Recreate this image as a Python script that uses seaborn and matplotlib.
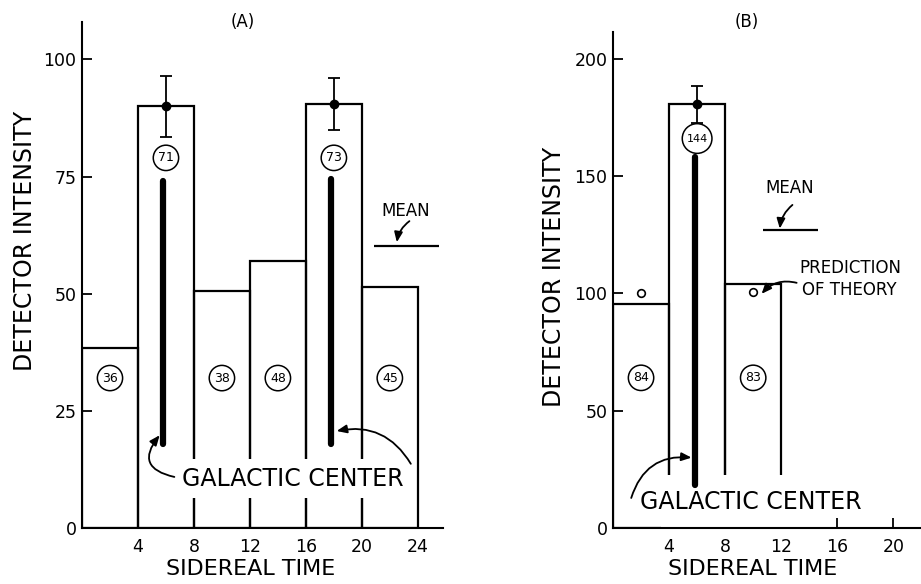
import matplotlib
matplotlib.use("Agg")
import matplotlib.pyplot as plt
from matplotlib.patches import Rectangle
import seaborn as sns

sns.set_style("ticks")
plt.rcParams['font.family'] = ['DejaVu Sans']
plt.rcParams['text.color'] = 'black'
plt.rcParams['axes.labelcolor'] = 'black'
plt.rcParams['xtick.color'] = 'black'
plt.rcParams['ytick.color'] = 'black'

# ---------------- DATOS (A) ----------------
tiempo_A = [2, 6, 10, 14, 18, 22]
intensidad_A = [38.5, 90, 50.5, 57, 90.5, 51.5]
cuentas_A = [36, 71, 38, 48, 73, 45]
cuentas_y_A = [32, 79, 32, 32, 79, 32]
err_x_A = [6, 18]
err_y_A = [90, 90.5]
err_A = [6.5, 5.5]
media_A = 60.2
centro_x_A = [5.8, 17.8]
centro_ini_A = [18, 18]
centro_fin_A = [74, 74.5]
bordes_A = [0, 4, 8, 12, 16, 20, 24]

# ---------------- DATOS (B) ----------------
tiempo_B = [2, 6, 10]
intensidad_B = [95.5, 180.5, 104]
cuentas_B = [84, 144, 83]
cuentas_y_B = [64, 166, 64]
err_x_B = [6]
err_y_B = [180.5]
err_B = [8]
teoria_x_B = [2, 10]
teoria_y_B = [100, 100.5]
media_B = 127
centro_x_B = [5.85]
centro_ini_B = [18.5]
centro_fin_B = [158]
bordes_B = [0, 4, 8, 12]

fig = plt.figure(figsize=(9.21, 5.84), dpi=100)
axA = fig.add_axes([82/921, 56/584, 361/921, 506/584])
axB = fig.add_axes([613/921, 56/584, 307/921, 496/584])

def histograma(ax, t, v, bordes):
    sns.histplot(x=t, weights=v, bins=bordes, fill=False, element='bars',
                 color='black', linewidth=1.6, ax=ax)

def circulos(ax, xs, ys, cs):
    for x, y, c in zip(xs, ys, cs):
        tam = 8 if len(str(c)) > 2 else 9
        ax.text(x, y, str(c), fontsize=tam, ha='center', va='center', zorder=5,
                bbox=dict(boxstyle='circle,pad=0.38', fc='white', ec='black', lw=1.1))

flecha = dict(arrowstyle='-|>,head_length=0.6,head_width=0.25', color='black', lw=1.3,
              shrinkA=0, shrinkB=0)

#################### PANEL (A) ####################
histograma(axA, tiempo_A, intensidad_A, bordes_A)
# se tapa el borde de las barras detras del texto
axA.add_patch(Rectangle((6.7, 6.4), 16.9, 8.4, fc='white', ec='none', zorder=1.5))
axA.errorbar(err_x_A, err_y_A, yerr=err_A, fmt='o', color='black', ms=6,
             capsize=4, elinewidth=1.3, capthick=1.3, zorder=4)
axA.vlines(centro_x_A, centro_ini_A, centro_fin_A, color='black', lw=4.5,
           capstyle='round', zorder=3)
circulos(axA, tiempo_A, cuentas_y_A, cuentas_A)
axA.hlines(media_A, 20.9, 25.5, color='black', lw=1.6)
axA.text(23.1, 67.6, 'MEAN', fontsize=12, ha='center', va='center')
axA.annotate('', xy=(22.5, 61), xytext=(23.4, 65.5),
             arrowprops=dict(flecha, connectionstyle='arc3,rad=0.2'))
axA.text(15.1, 10.4, 'GALACTIC CENTER', fontsize=17, ha='center', va='center', zorder=4)
axA.annotate('', xy=(5.55, 19.8), xytext=(6.6, 10.9),
             arrowprops=dict(flecha, connectionstyle='arc3,rad=-0.8'), zorder=5)
axA.annotate('', xy=(18.2, 20.7), xytext=(23.5, 13.7),
             arrowprops=dict(flecha, connectionstyle='arc3,rad=0.35'), zorder=5)
axA.set_xlim(0, 25.8)
axA.set_ylim(0, 108)
axA.set_xticks([4, 8, 12, 16, 20, 24])
axA.set_yticks([0, 25, 50, 75, 100])
axA.text(0.446, 1.0, '(A)', transform=axA.transAxes, ha='center', va='center', fontsize=12)

#################### PANEL (B) ####################
histograma(axB, tiempo_B, intensidad_B, bordes_B)
axB.add_patch(Rectangle((3.4, 0.3), 9.2, 22.3, fc='white', ec='none', zorder=1.5))
axB.errorbar(err_x_B, err_y_B, yerr=err_B, fmt='o', color='black', ms=6,
             capsize=4, elinewidth=1.3, capthick=1.3, zorder=4)
axB.plot(teoria_x_B, teoria_y_B, 'o', mfc='white', mec='black', ms=5.5, mew=1.2,
         ls='none', zorder=4)
axB.vlines(centro_x_B, centro_ini_B, centro_fin_B, color='black', lw=4.5,
           capstyle='round', zorder=3)
circulos(axB, tiempo_B, cuentas_y_B, cuentas_B)
axB.hlines(media_B, 10.7, 14.65, color='black', lw=1.6)
axB.text(12.6, 145, 'MEAN', fontsize=12, ha='center', va='center')
axB.annotate('', xy=(11.9, 127.6), xytext=(12.8, 137.7),
             arrowprops=dict(flecha, connectionstyle='arc3,rad=0.2'))
axB.text(13.3, 110.8, 'PREDICTION', fontsize=12, ha='left', va='center')
axB.text(13.45, 101.6, 'OF THEORY', fontsize=12, ha='left', va='center')
axB.annotate('', xy=(10.6, 99.8), xytext=(13.1, 104.5),
             arrowprops=dict(flecha, connectionstyle='arc3,rad=0.3'))
axB.text(9.85, 11.0, 'GALACTIC CENTER', fontsize=17, ha='center', va='center', zorder=4)
axB.annotate('', xy=(5.6, 30), xytext=(1.3, 12.8),
             arrowprops=dict(flecha, connectionstyle='arc3,rad=-0.4'), zorder=5)
axB.set_xlim(0, 21.9)
axB.set_ylim(0, 211.4)
axB.set_xticks([4, 8, 12, 16, 20])
axB.set_yticks([0, 50, 100, 150, 200])
axB.text(0.436, 1.02, '(B)', transform=axB.transAxes, ha='center', va='center', fontsize=12)

#################### EJES ####################
for ax in (axA, axB):
    sns.despine(ax=ax)
    for s in ('left', 'bottom'):
        ax.spines[s].set_linewidth(1.5)
        ax.spines[s].set_color('black')
    ax.tick_params(direction='in', length=7, width=1.3, labelsize=12.5, pad=4,
                   colors='black')
    ax.tick_params(axis='x', pad=7)
    ax.set_xlabel('SIDEREAL TIME', fontsize=16)
    ax.set_ylabel('DETECTOR INTENSITY', fontsize=17)

axA.xaxis.set_label_coords(0.468, -0.062)
axA.yaxis.set_label_coords(-0.125, 0.567)
axB.xaxis.set_label_coords(0.455, -0.063)
axB.yaxis.set_label_coords(-0.153, 0.506)

fig.savefig('out.png', dpi=100)
